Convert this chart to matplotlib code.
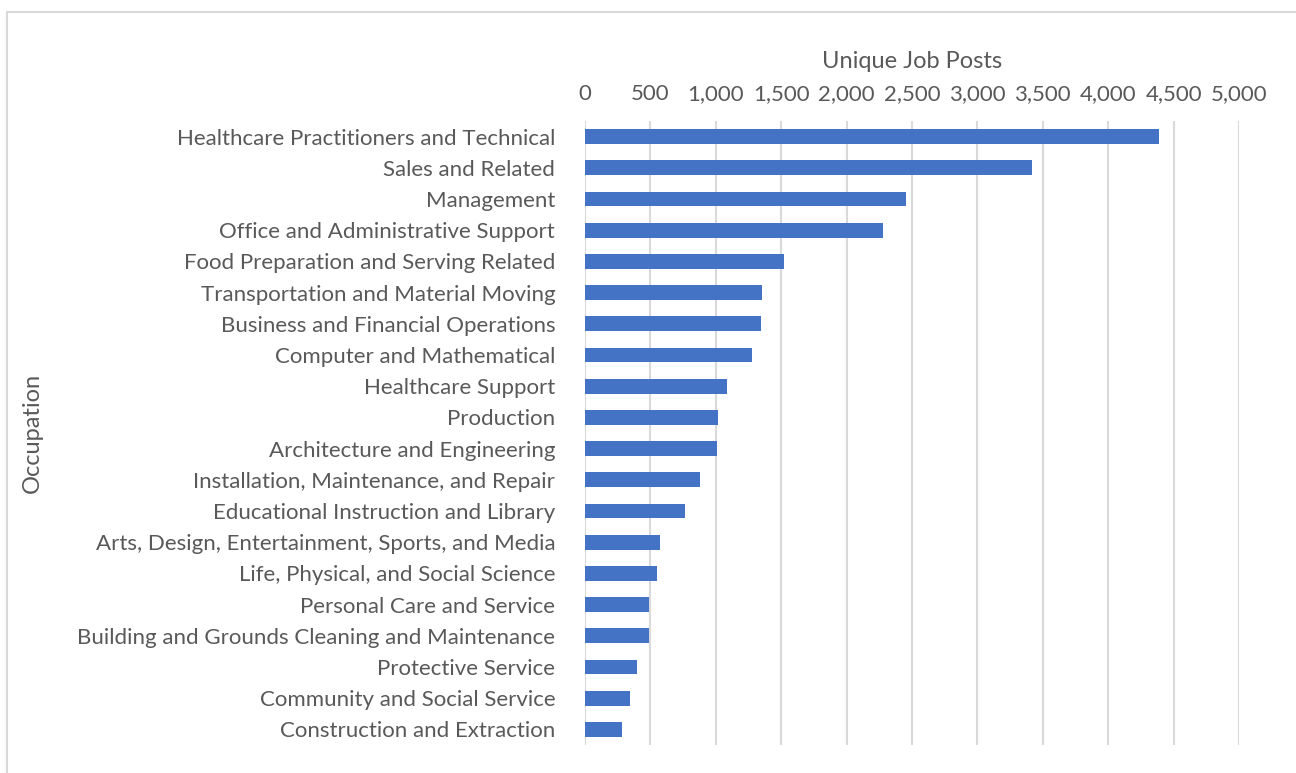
import matplotlib.pyplot as plt
from matplotlib.patches import Rectangle
from matplotlib.ticker import FuncFormatter, MultipleLocator

occupations = [
    "Healthcare Practitioners and Technical",
    "Sales and Related",
    "Management",
    "Office and Administrative Support",
    "Food Preparation and Serving Related",
    "Transportation and Material Moving",
    "Business and Financial Operations",
    "Computer and Mathematical",
    "Healthcare Support",
    "Production",
    "Architecture and Engineering",
    "Installation, Maintenance, and Repair",
    "Educational Instruction and Library",
    "Arts, Design, Entertainment, Sports, and Media",
    "Life, Physical, and Social Science",
    "Personal Care and Service",
    "Building and Grounds Cleaning and Maintenance",
    "Protective Service",
    "Community and Social Service",
    "Construction and Extraction",
]
job_posts = [4385, 3420, 2455, 2278, 1523, 1352, 1346, 1278, 1084, 1013,
             1010, 883, 763, 577, 548, 492, 487, 400, 347, 286]

TEXT = "#595959"
plt.rcParams["font.family"] = ["Lato", "DejaVu Sans"]

fig = plt.figure(figsize=(12.96, 7.73), dpi=100)
fig.patch.set_facecolor("white")

# light chart-area frame
fig.patches.append(Rectangle((7 / 1296, -0.05), 1.2, (773 - 12) / 773 + 0.05,
                             transform=fig.transFigure, fill=False,
                             edgecolor="#d9d9d9", linewidth=1.5))

ax = fig.add_axes([585 / 1296, 1 - 745 / 773, (1239 - 585) / 1296, (745 - 121) / 773])
ax.barh(range(len(occupations)), job_posts, height=0.47, color="#4472C4", zorder=3)
ax.set_ylim(len(occupations) - 0.5, -0.5)
ax.set_xlim(0, 5000)
ax.set_yticks(range(len(occupations)))
ax.set_yticklabels(occupations)

ax.xaxis.set_major_locator(MultipleLocator(500))
ax.xaxis.set_major_formatter(FuncFormatter(lambda v, _: f"{int(v):,}"))
ax.xaxis.tick_top()
ax.xaxis.set_label_position("top")
ax.grid(axis="x", color="#d9d9d9", linewidth=1.5, zorder=0)
ax.tick_params(length=0, colors=TEXT, labelsize=16)
ax.tick_params(axis="x", pad=12)
ax.tick_params(axis="y", pad=21.5)
for s in ax.spines.values():
    s.set_visible(False)

ax.set_xlabel("Unique Job Posts", fontsize=17, color=TEXT, labelpad=12)
fig.text(32 / 1296, 1 - 433 / 773, "Occupation", rotation=90, fontsize=17,
         color=TEXT, ha="center", va="center")

fig.savefig("out.png", dpi=100)
